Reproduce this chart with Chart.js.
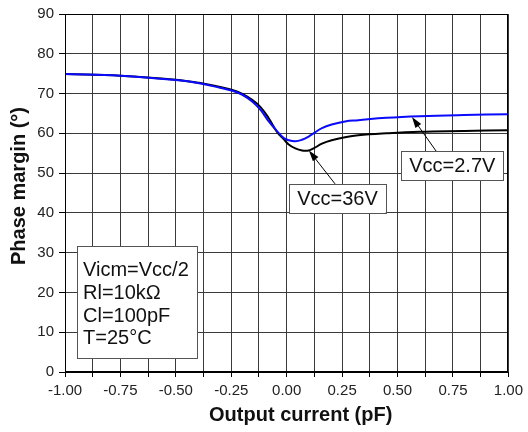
<!DOCTYPE html>
<html>
<head>
<meta charset="utf-8">
<script src="https://cdn.jsdelivr.net/npm/chart.js@4.4.1/dist/chart.umd.min.js"></script>
<style>
  html, body { margin: 0; padding: 0; background: #fff; }
  #wrap { width: 528px; height: 432px; }
</style>
</head>
<body>
<div id="wrap"><canvas id="myChart"></canvas></div>
<script>
// output current (x) and phase margin for both supplies
var current = [-1, -0.75, -0.5, -0.395, -0.305, -0.245, -0.2, -0.156, -0.118, -0.081, -0.043, -0.013, 0.009, 0.039, 0.069, 0.099, 0.121, 0.159, 0.203, 0.263, 0.323, 0.45, 0.6, 0.8, 1.0];
var pm27 = [74.9, 74.5, 73.4, 72.6, 71.5, 70.7, 69.7, 68.0, 65.9, 63.0, 60.5, 58.8, 58.25, 58.0, 58.4, 59.2, 60.0, 61.3, 62.2, 63.0, 63.3, 63.9, 64.3, 64.6, 64.8];
var pm36 = [74.9, 74.5, 73.5, 72.7, 71.7, 70.9, 69.9, 68.4, 66.6, 63.8, 60.3, 58.5, 57.2, 56.2, 55.7, 55.7, 56.2, 57.4, 58.25, 59.0, 59.5, 60.0, 60.4, 60.6, 60.8];

var xMin = -1, xMax = 1, xStep = 0.125, xLabelStep = 0.25;
var yMin = 0, yMax = 90, yStep = 10;

var conditions = ['Vicm=Vcc/2', 'Rl=10k\u03A9', 'Cl=100pF', 'T=25\u00B0C'];

// label boxes: box centre and arrow (from, to) in data units
var notes = [
  { text: 'Vcc=36V', bx: 0.229, by: 43.5, fx: 0.218, fy: 47.3, tx: 0.100, ty: 55.7 },
  { text: 'Vcc=2.7V', bx: 0.747, by: 51.9, fx: 0.677, fy: 55.3, tx: 0.565, ty: 64.1 }
];

function pts(ys) {
  var out = [];
  for (var i = 0; i < current.length; i++) out.push({ x: current[i], y: ys[i] });
  return out;
}

var font = '"Liberation Sans", Arial, sans-serif';

function arrow(ctx, x0, y0, x1, y1) {
  var ang = Math.atan2(y1 - y0, x1 - x0);
  var len = 11, w = 3.5;
  ctx.beginPath();
  ctx.moveTo(x0, y0);
  ctx.lineTo(x1 - Math.cos(ang) * len * 0.8, y1 - Math.sin(ang) * len * 0.8);
  ctx.stroke();
  ctx.beginPath();
  ctx.moveTo(x1, y1);
  ctx.lineTo(x1 - Math.cos(ang) * len - Math.sin(ang) * w, y1 - Math.sin(ang) * len + Math.cos(ang) * w);
  ctx.lineTo(x1 - Math.cos(ang) * len + Math.sin(ang) * w, y1 - Math.sin(ang) * len - Math.cos(ang) * w);
  ctx.closePath();
  ctx.fill();
}

var overlay = {
  id: 'overlay',
  afterDatasetsDraw: function(chart) {
    var ctx = chart.ctx, a = chart.chartArea;
    var xs = chart.scales.x, ys = chart.scales.y;
    ctx.save();

    // plot frame
    ctx.strokeStyle = '#000';
    ctx.lineWidth = 1;
    ctx.strokeRect(Math.round(a.left) + 0.5, Math.round(a.top) + 0.5,
      Math.round(a.right - a.left) - 1, Math.round(a.bottom - a.top) - 1);

    // arrows + labels
    ctx.font = '20px ' + font;
    ctx.textBaseline = 'middle';
    ctx.textAlign = 'center';
    notes.forEach(function(n) {
      ctx.strokeStyle = '#000';
      ctx.fillStyle = '#000';
      ctx.lineWidth = 1;
      arrow(ctx, xs.getPixelForValue(n.fx), ys.getPixelForValue(n.fy),
        xs.getPixelForValue(n.tx), ys.getPixelForValue(n.ty));
      var cx = xs.getPixelForValue(n.bx), cy = ys.getPixelForValue(n.by);
      var w = ctx.measureText(n.text).width + 16, h = 29;
      ctx.fillStyle = '#fff';
      ctx.fillRect(cx - w / 2, cy - h / 2, w, h);
      ctx.strokeStyle = '#555';
      ctx.strokeRect(Math.round(cx - w / 2) + 0.5, Math.round(cy - h / 2) + 0.5, Math.round(w), h);
      ctx.fillStyle = '#111';
      ctx.fillText(n.text, cx, cy + 1);
    });

    // conditions box
    var bl = a.left + 12, bb = a.bottom - 14, bw = 120, bh = 112;
    ctx.fillStyle = '#fff';
    ctx.fillRect(bl, bb - bh, bw, bh);
    ctx.strokeStyle = '#555';
    ctx.strokeRect(Math.round(bl) + 0.5, Math.round(bb - bh) + 0.5, bw, bh);
    ctx.fillStyle = '#111';
    ctx.textAlign = 'left';
    ctx.textBaseline = 'alphabetic';
    conditions.forEach(function(t, i) {
      ctx.fillText(t, bl + 6, bb - bh + 30 + i * 22.8);
    });

    // axis titles
    ctx.font = 'bold 20px ' + font;
    ctx.textAlign = 'center';
    ctx.fillStyle = '#111';
    ctx.fillText('Output current (pF)', (a.left + a.right) / 2 + 14, 421);
    ctx.translate(25, (a.top + a.bottom) / 2 - 7);
    ctx.rotate(-Math.PI / 2);
    ctx.fillText('Phase margin (\u00B0)', 0, 0);
    ctx.restore();
  }
};

Chart.defaults.font.family = font;
Chart.defaults.font.size = 15;
Chart.defaults.color = '#222';

var ctx = document.getElementById('myChart');
var myChart = new Chart(ctx, {
  type: 'line',
  data: {
    datasets: [{
      label: 'Vcc=2.7V',
      data: pts(pm27),
      borderColor: '#0a0aff',
      borderWidth: 2,
      pointRadius: 0,
      tension: 0.4
    }, {
      label: 'Vcc=36V',
      data: pts(pm36),
      borderColor: '#000',
      borderWidth: 2,
      pointRadius: 0,
      tension: 0.4
    }]
  },
  options: {
    responsive: true,
    maintainAspectRatio: false,
    animation: false,
    layout: { padding: { top: 12, right: 17, left: 0, bottom: 0 } },
    plugins: { legend: { display: false }, tooltip: { enabled: false } },
    scales: {
      x: {
        type: 'linear',
        min: xMin, max: xMax,
        afterFit: function(s) { s.height = 60; },
        border: { color: '#000', width: 1 },
        grid: { color: '#3a3a3a', tickColor: '#000', tickLength: 5 },
        ticks: {
          stepSize: xStep,
          autoSkip: false,
          maxRotation: 0,
          padding: 5,
          callback: function(v) {
            var k = Math.round(v / xLabelStep);
            return Math.abs(k * xLabelStep - v) < 1e-9 ? v.toFixed(2) : '';
          }
        }
      },
      y: {
        min: yMin, max: yMax,
        afterFit: function(s) { s.width = 65; },
        border: { color: '#000', width: 1 },
        grid: { color: '#3a3a3a', tickColor: '#000', tickLength: 6 },
        ticks: { stepSize: yStep, padding: 5 }
      }
    }
  },
  plugins: [overlay]
});
</script>
</body>
</html>
